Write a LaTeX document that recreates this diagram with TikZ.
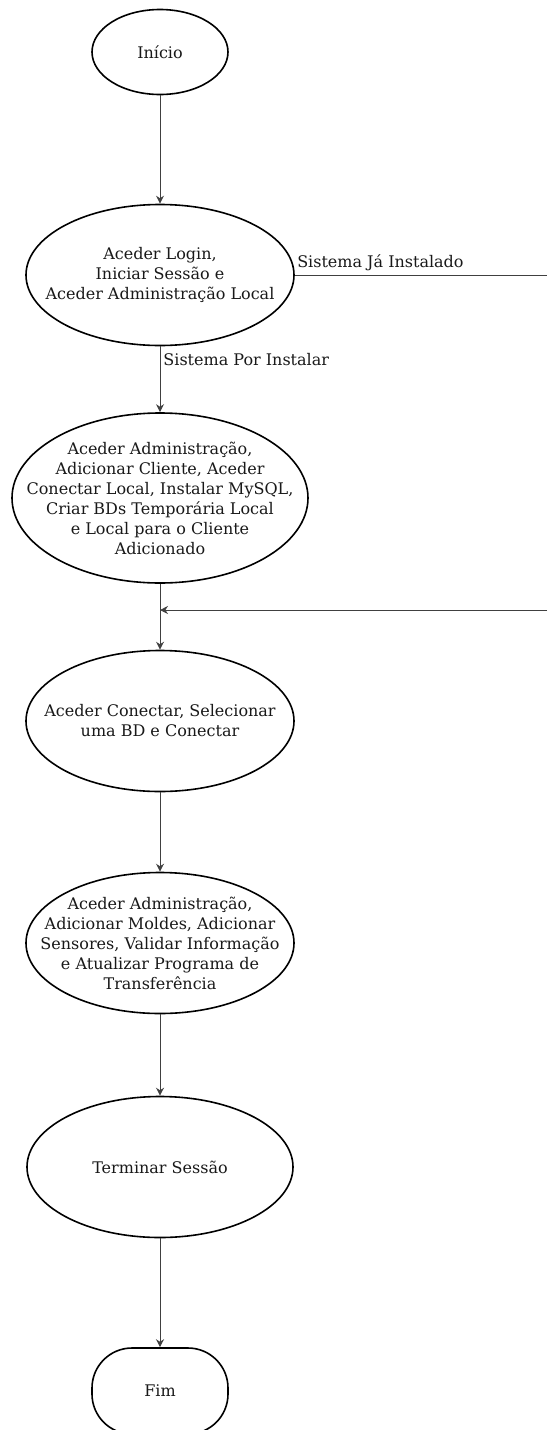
\documentclass[tikz,border=0pt]{standalone}
\usepackage{fontspec}
\setmainfont{DejaVu Serif}
\usetikzlibrary{shapes.geometric,arrows.meta}
\begin{document}
\begin{tikzpicture}[x=1pt,y=-1pt,
  proc/.style={ellipse,draw=black,line width=1.6pt,inner sep=0pt},
  txt/.style={align=center,inner sep=0pt,font=\fontsize{16}{20}\selectfont,text=black!90},
  conn/.style={draw=black!75,line width=0.9pt},
  arr/.style={conn,-{Stealth[length=8pt,width=8pt]}},
  lbl/.style={font=\fontsize{16}{20}\selectfont,text=black!90,inner sep=0pt}]
\useasboundingbox (0,0) rectangle (547,1430);
\fill[white] (0,0) rectangle (547,1430);
\node[proc,minimum width=136pt,minimum height=85pt] (ini) at (160,52) {};
\node[txt] (tini) at (ini) {Início};
\node[proc,minimum width=268pt,minimum height=141pt] (login) at (160,275) {};
\node[txt] (tlogin) at (login)
  {Aceder Login,\\Iniciar Sessão e\\Aceder Administração Local};
\node[proc,minimum width=296pt,minimum height=170pt] (adm) at (160,498) {};
\node[txt] (tadm) at (adm)
  {Aceder Administração,\\Adicionar Cliente, Aceder\\Conectar Local, Instalar MySQL,\\Criar BDs Temporária Local\\e Local para o Cliente\\Adicionado};
\node[proc,minimum width=268pt,minimum height=141pt] (con) at (160,721) {};
\node[txt] (tcon) at (con) {Aceder Conectar, Selecionar\\uma BD e Conectar};
\node[proc,minimum width=268pt,minimum height=141pt] (mold) at (160,943) {};
\node[txt] (tmold) at (mold)
  {Aceder Administração,\\Adicionar Moldes, Adicionar\\Sensores, Validar Informação\\e Atualizar Programa de\\Transferência};
\node[proc,minimum width=266pt,minimum height=141pt] (term) at (160,1167) {};
\node[txt] (tterm) at (term) {Terminar Sessão};
\node[rectangle,rounded corners=40pt,draw=black,line width=1.6pt,minimum width=136pt,
  minimum height=86pt,inner sep=0pt] (fim) at (160,1391) {};
\node[txt] (tfim) at (fim) {Fim};
\coordinate (r1) at (547,275);
\coordinate (r2) at (547,610);
\coordinate (j) at (160,610);
\draw[arr] (ini) -- (login);
\draw[arr] (login) -- node[lbl,anchor=west,xshift=3pt,pos=0.2]{Sistema Por Instalar} (adm);
\draw[conn] (login.east) -- node[lbl,anchor=south west,pos=0,xshift=2pt,yshift=4pt]{Sistema Já Instalado} (r1);
\draw[arr] (adm) -- (con);
\draw[arr] (r2) -- (j);
\draw[arr] (con) -- (mold);
\draw[arr] (mold) -- (term);
\draw[arr] (term) -- (fim);
\end{tikzpicture}
\end{document}
